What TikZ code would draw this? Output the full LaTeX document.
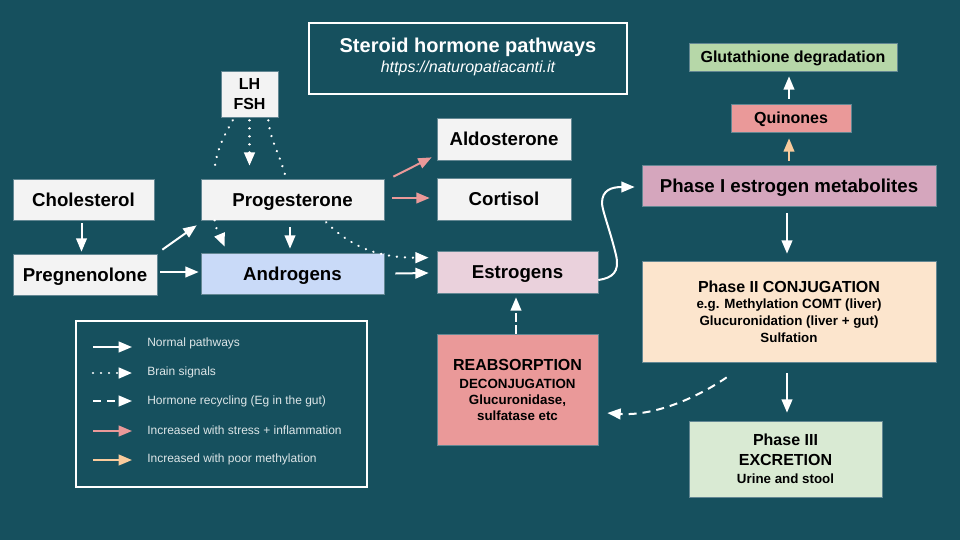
\documentclass[tikz,border=0pt]{standalone}
\usepackage{fontspec}
\setmainfont{Liberation Sans}
\usetikzlibrary{arrows.meta}
\definecolor{bgc}{HTML}{16505E}
\definecolor{boxg}{HTML}{F3F3F3}
\definecolor{andc}{HTML}{C9DAF8}
\definecolor{estc}{HTML}{EAD1DC}
\definecolor{reac}{HTML}{EA9999}
\definecolor{phoc}{HTML}{D5A6BD}
\definecolor{gluc}{HTML}{B6D7A8}
\definecolor{phtc}{HTML}{FCE5CD}
\definecolor{phhc}{HTML}{D9EAD3}
\definecolor{orac}{HTML}{F9CB9C}
\definecolor{edgec}{HTML}{638793}
\definecolor{legc}{HTML}{DDE6E8}
\tikzset{
  wh/.style 2 args={minimum width=#1*.75pt,minimum height=#2*.75pt},
  bx/.style={draw=edgec,line width=.5pt,inner sep=0pt,align=center,text=black,font=\bfseries\fontsize{14}{16}\selectfont},
  big/.style={text height=13pt,text depth=3pt},
  sm/.style={font=\bfseries\fontsize{12}{14}\selectfont,text height=11pt,text depth=2.4pt},
  multi/.style={font=\bfseries\fontsize{10}{12.4}\selectfont},
  frame/.style={draw=white,line width=1.5pt,inner sep=0pt,align=center,text=white},
  arr/.style={draw=white,line width=1.5pt,-{Triangle[length=10pt,width=8pt]}},
  dotl/.style={draw=white,line width=1.9pt,line cap=round,dash pattern=on .01pt off 6pt},
  dota/.style={dotl,-{Triangle[length=10pt,width=8pt]}},
  dasha/.style={arr,dash pattern=on 6pt off 4.5pt},
  pinka/.style={arr,draw=reac},
  oraa/.style={arr,draw=orac},
  legt/.style={anchor=west,inner sep=0pt,text=legc,font=\fontsize{9}{11}\selectfont},
}
\begin{document}
\begin{tikzpicture}[x=.75pt,y=-.75pt]
\useasboundingbox[fill=bgc] (0,0) rectangle (960,540);
% nodes
\node[frame,wh={318}{71},font=\fontsize{12}{15.5}\selectfont] (title) at (468,58.5) {{\bfseries\fontsize{15}{18}\selectfont Steroid hormone pathways}\\[-0.4pt]{\itshape\fontsize{12}{14}\selectfont https://naturopatiacanti.it}\\[-11pt]\mbox{}};
\node[bx,big,fill=boxg,wh={141}{41}] (chol) at (83.5,199.5) {Cholesterol};
\node[bx,big,fill=boxg,wh={144}{41}] (preg) at (85,274.5) {Pregnenolone};
\node[bx,big,fill=boxg,wh={183}{41}] (prog) at (292.5,199.5) {Progesterone};
\node[bx,big,fill=andc,wh={183}{41}] (andr) at (292.5,273.5) {Androgens};
\node[bx,font=\bfseries\fontsize{12}{15}\selectfont,fill=boxg,wh={57}{46}] (lh) at (249.5,94) {LH\\FSH};
\node[bx,big,fill=boxg,wh={134}{42}] (aldo) at (504,139) {Aldosterone};
\node[bx,big,fill=boxg,wh={134}{42}] (cort) at (504,199) {Cortisol};
\node[bx,big,fill=estc,wh={161}{42}] (estr) at (517.5,272) {Estrogens};
\node[bx,multi,font=\bfseries\fontsize{10}{12}\selectfont,fill=reac,wh={161}{111}] (reab) at (517.5,389.5) {{\fontsize{12}{15}\selectfont REABSORPTION}\\[1.5pt]DECONJUGATION\\Glucuronidase,\\sulfatase etc};
\node[bx,big,fill=phoc,wh={294}{41}] (phone) at (789,185.5) {Phase I estrogen metabolites};
\node[bx,sm,fill=reac,wh={120}{28}] (quin) at (791,118) {Quinones};
\node[bx,sm,fill=gluc,wh={208}{28}] (glut) at (793,57) {Glutathione degradation};
\node[bx,multi,fill=phtc,wh={294}{101}] (phtwo) at (789,311.5) {{\fontsize{12}{15}\selectfont Phase II CONJUGATION}\\e.g. Methylation COMT (liver)\\Glucuronidation (liver + gut)\\Sulfation};
\node[bx,font=\bfseries\fontsize{12}{14.2}\selectfont,fill=phhc,wh={193}{76}] (phthree) at (785.5,459) {Phase III\\[.4pt]EXCRETION\\{\fontsize{10}{13}\selectfont Urine and stool}};
\node[frame,wh={291}{166}] (legend) at (221.5,404) {};
% legend
\node[legt] (lone) at (147,343.5) {Normal pathways};
\node[legt] (ltwo) at (147,372.5) {Brain signals};
\node[legt] (lthree) at (147,401.5) {Hormone recycling (Eg in the gut)};
\node[legt] (lfour) at (147,430.5) {Increased with stress + inflammation};
\node[legt] (lfive) at (147,459) {Increased with poor methylation};
\coordinate (aones) at (93,347); \coordinate (aonee) at (132,347);
\coordinate (atwos) at (93,373); \coordinate (atwoe) at (132,373);
\coordinate (athrs) at (93,401); \coordinate (athre) at (132,401);
\coordinate (afous) at (93,431); \coordinate (afoue) at (132,431);
\coordinate (afivs) at (93,460); \coordinate (afive) at (132,460);
\draw[arr] (aones) -- (aonee);
\draw[dota] (atwos) -- (atwoe);
\draw[dasha] (athrs) -- (athre);
\draw[pinka] (afous) -- (afoue);
\draw[oraa] (afivs) -- (afive);
% connectors
\draw[arr] ([shift={(-2,3)}]chol.south) -- ([shift={(-3.5,-2)}]preg.north);
\draw[arr] ([shift={(5,-4)}]preg.north east) -- ([shift={(-4,5)}]prog.south west);
\draw[arr] ([shift={(3,-2.5)}]preg.east) -- ([shift={(-2,-1.5)}]andr.west);
\draw[arr] ([shift={(-2.5,7)}]prog.south) -- ([shift={(-2.5,-4)}]andr.north);
\draw[dota] ([shift={(14,0)}]prog.south west) .. controls +(2,12) and +(-5,-12) .. ([shift={(24,-6)}]andr.north west);
\draw[dota] ([shift={(0,3)}]lh.south) -- ([shift={(-43,-13)}]prog.north);
\draw[dotl] ([shift={(12,3)}]lh.south west) .. controls +(-10,18) and +(2,-22) .. ([shift={(13.5,-6)}]prog.north west);
\draw[dotl] ([shift={(-10,3)}]lh.south east) .. controls +(2,20) and +(-6,-22) .. ([shift={(-7.5,-4)}]prog.north);
\draw[dota] ([shift={(-58,2)}]prog.south east) .. controls +(28,28) and +(-45,0) .. ([shift={(-8,7)}]estr.north west);
\draw[arr] ([shift={(11,0)}]andr.east) -- ([shift={(-8,1)}]estr.west);
\draw[pinka] ([shift={(9,-2)}]prog.north east) -- ([shift={(-5,-3)}]aldo.south west);
\draw[pinka] ([shift={(8,-1.5)}]prog.east) -- ([shift={(-7,-1)}]cort.west);
\coordinate (benda) at (616,255);
\coordinate (bendb) at (602,203);
\draw[arr] ([shift={(0,8)}]estr.east) .. controls +(14,-2) and +(4,17) .. (benda) .. controls +(-6,-25) and +(0,7) .. (bendb) .. controls +(0,-13) and +(-23,0) .. ([shift={(-7,1.5)}]phone.west);
\draw[arr] ([shift={(-2,7)}]phone.south) -- ([shift={(-2,-7)}]phtwo.north);
\draw[arr] ([shift={(-2,11)}]phtwo.south) -- ([shift={(1.5,-8)}]phthree.north);
\draw[oraa] ([shift={(0,-4)}]phone.north) -- ([shift={(-2,6)}]quin.south);
\draw[arr] ([shift={(-2,-5)}]quin.north) -- ([shift={(-4,5)}]glut.south);
\draw[arr,dash pattern=on 6.5pt off 2.5pt] ([shift={(-1.5,0)}]reab.north) -- ([shift={(-1.5,4)}]estr.south);
\draw[dasha] ([shift={(85,15)}]phtwo.south west) .. controls +(-35,24) and +(43,3) .. ([shift={(9,23.5)}]reab.east);
\end{tikzpicture}
\end{document}
